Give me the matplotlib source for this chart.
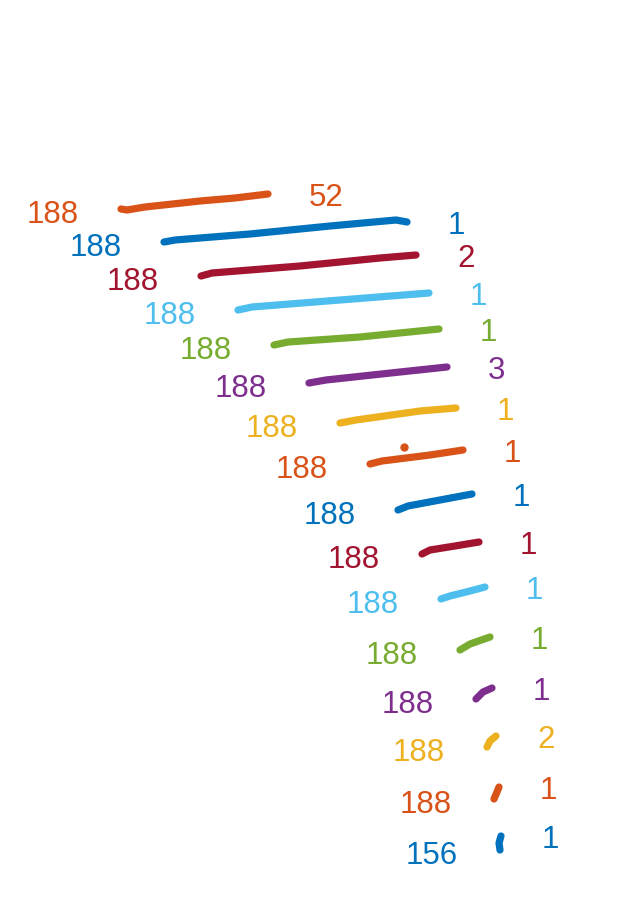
import matplotlib.pyplot as plt

# matlab default colours
blue = '#0072BD'
orange = '#D95319'
yellow = '#EDB120'
purple = '#7E2F8E'
green = '#77AC30'
lblue = '#4DBEEE'
dred = '#A2142F'

colors = [orange, blue, dred, lblue, green, purple, yellow,
          orange, blue, dred, lblue, green, purple, yellow, orange, blue]

# traces (pixel-like units, y grows downwards)
trace_x = [
    [121, 127, 145, 200, 235, 268],
    [164, 175, 250, 330, 396, 407],
    [201, 212, 300, 380, 416],
    [238, 252, 340, 429],
    [274, 288, 360, 439],
    [309, 326, 400, 447],
    [340, 356, 420, 456],
    [370, 382, 430, 463],
    [398, 408, 440, 472],
    [422, 430, 455, 479],
    [441, 450, 470, 485],
    [460, 470, 490],
    [476, 483, 492],
    [487, 490, 496],
    [494, 497, 499],
    [500, 499, 501],
]
trace_y = [
    [209, 210, 207, 201, 198, 194],
    [242, 240, 234, 226, 220, 222],
    [276, 273, 266, 258, 255],
    [310, 307, 300, 293],
    [345, 342, 337, 329],
    [383, 380, 372, 367],
    [423, 420, 411, 408],
    [464, 461, 455, 450],
    [510, 506, 500, 494],
    [554, 550, 546, 542],
    [599, 596, 591, 587],
    [650, 644, 637],
    [699, 692, 688],
    [747, 741, 736],
    [799, 792, 787],
    [850, 843, 836],
]
start_labels = ['188'] * 15 + ['156']
end_labels = ['52', '1', '2', '1', '1', '3', '1', '1', '1', '1', '1', '1', '1', '2', '1', '1']

# stray point of the 8th trace
stray_x = [404]
stray_y = [447]

fig = plt.figure(figsize=(6.24, 9), dpi=100)
ax = fig.add_axes([0, 0, 1, 1])
ax.set_xlim(0, 624)
ax.set_ylim(900, 0)
ax.axis('off')

for i in range(len(trace_x)):
    xs = trace_x[i]
    ys = trace_y[i]
    c = colors[i]
    ax.plot(xs, ys, color=c, lw=5.2, solid_capstyle='round', solid_joinstyle='round')
    ax.text(xs[0] - 42, ys[0] + 6, start_labels[i], color=c, fontsize=22.5,
            family='Liberation Sans', ha='right', va='center')
    ax.text(xs[-1] + 41, ys[-1] + 4, end_labels[i], color=c, fontsize=22.5,
            family='Liberation Sans', ha='left', va='center')

ax.plot(stray_x, stray_y, 'o', color=colors[7], ms=5)

fig.savefig('out.png', dpi=100)
